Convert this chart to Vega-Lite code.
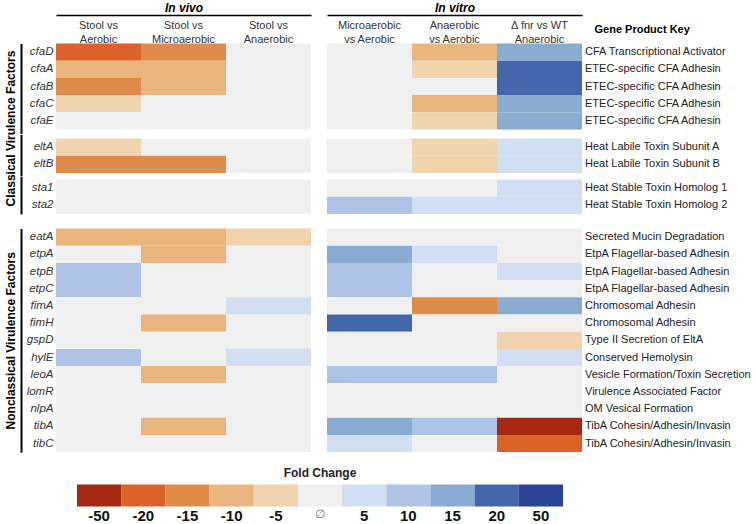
{
  "$schema": "https://vega.github.io/schema/vega-lite/v6.json",
  "padding": {"left": 3, "top": 0.5, "right": 0, "bottom": 0},
  "config": {"view": {"stroke": null}, "font": "Liberation Sans"},
  "datasets": {
    "cells": [
      {"g":"cfaD","grp":1,"s":"vivo","c":"Stool vs\nAerobic","v":-20},
      {"g":"cfaD","grp":1,"s":"vivo","c":"Stool vs\nMicroaerobic","v":-15},
      {"g":"cfaD","grp":1,"s":"vivo","c":"Stool vs\nAnaerobic","v":0},
      {"g":"cfaD","grp":1,"s":"vitro","c":"Microaerobic\nvs Aerobic","v":0},
      {"g":"cfaD","grp":1,"s":"vitro","c":"Anaerobic\nvs Aerobic","v":-10},
      {"g":"cfaD","grp":1,"s":"vitro","c":"Δ fnr vs WT\nAnaerobic","v":15},
      {"g":"cfaA","grp":1,"s":"vivo","c":"Stool vs\nAerobic","v":-10},
      {"g":"cfaA","grp":1,"s":"vivo","c":"Stool vs\nMicroaerobic","v":-10},
      {"g":"cfaA","grp":1,"s":"vivo","c":"Stool vs\nAnaerobic","v":0},
      {"g":"cfaA","grp":1,"s":"vitro","c":"Microaerobic\nvs Aerobic","v":0},
      {"g":"cfaA","grp":1,"s":"vitro","c":"Anaerobic\nvs Aerobic","v":-5},
      {"g":"cfaA","grp":1,"s":"vitro","c":"Δ fnr vs WT\nAnaerobic","v":20},
      {"g":"cfaB","grp":1,"s":"vivo","c":"Stool vs\nAerobic","v":-15},
      {"g":"cfaB","grp":1,"s":"vivo","c":"Stool vs\nMicroaerobic","v":-10},
      {"g":"cfaB","grp":1,"s":"vivo","c":"Stool vs\nAnaerobic","v":0},
      {"g":"cfaB","grp":1,"s":"vitro","c":"Microaerobic\nvs Aerobic","v":0},
      {"g":"cfaB","grp":1,"s":"vitro","c":"Anaerobic\nvs Aerobic","v":0},
      {"g":"cfaB","grp":1,"s":"vitro","c":"Δ fnr vs WT\nAnaerobic","v":20},
      {"g":"cfaC","grp":1,"s":"vivo","c":"Stool vs\nAerobic","v":-5},
      {"g":"cfaC","grp":1,"s":"vivo","c":"Stool vs\nMicroaerobic","v":0},
      {"g":"cfaC","grp":1,"s":"vivo","c":"Stool vs\nAnaerobic","v":0},
      {"g":"cfaC","grp":1,"s":"vitro","c":"Microaerobic\nvs Aerobic","v":0},
      {"g":"cfaC","grp":1,"s":"vitro","c":"Anaerobic\nvs Aerobic","v":-10},
      {"g":"cfaC","grp":1,"s":"vitro","c":"Δ fnr vs WT\nAnaerobic","v":15},
      {"g":"cfaE","grp":1,"s":"vivo","c":"Stool vs\nAerobic","v":0},
      {"g":"cfaE","grp":1,"s":"vivo","c":"Stool vs\nMicroaerobic","v":0},
      {"g":"cfaE","grp":1,"s":"vivo","c":"Stool vs\nAnaerobic","v":0},
      {"g":"cfaE","grp":1,"s":"vitro","c":"Microaerobic\nvs Aerobic","v":0},
      {"g":"cfaE","grp":1,"s":"vitro","c":"Anaerobic\nvs Aerobic","v":-5},
      {"g":"cfaE","grp":1,"s":"vitro","c":"Δ fnr vs WT\nAnaerobic","v":15},
      {"g":"eltA","grp":2,"s":"vivo","c":"Stool vs\nAerobic","v":-5},
      {"g":"eltA","grp":2,"s":"vivo","c":"Stool vs\nMicroaerobic","v":0},
      {"g":"eltA","grp":2,"s":"vivo","c":"Stool vs\nAnaerobic","v":0},
      {"g":"eltA","grp":2,"s":"vitro","c":"Microaerobic\nvs Aerobic","v":0},
      {"g":"eltA","grp":2,"s":"vitro","c":"Anaerobic\nvs Aerobic","v":-5},
      {"g":"eltA","grp":2,"s":"vitro","c":"Δ fnr vs WT\nAnaerobic","v":5},
      {"g":"eltB","grp":2,"s":"vivo","c":"Stool vs\nAerobic","v":-15},
      {"g":"eltB","grp":2,"s":"vivo","c":"Stool vs\nMicroaerobic","v":-15},
      {"g":"eltB","grp":2,"s":"vivo","c":"Stool vs\nAnaerobic","v":0},
      {"g":"eltB","grp":2,"s":"vitro","c":"Microaerobic\nvs Aerobic","v":0},
      {"g":"eltB","grp":2,"s":"vitro","c":"Anaerobic\nvs Aerobic","v":-5},
      {"g":"eltB","grp":2,"s":"vitro","c":"Δ fnr vs WT\nAnaerobic","v":5},
      {"g":"sta1","grp":3,"s":"vivo","c":"Stool vs\nAerobic","v":0},
      {"g":"sta1","grp":3,"s":"vivo","c":"Stool vs\nMicroaerobic","v":0},
      {"g":"sta1","grp":3,"s":"vivo","c":"Stool vs\nAnaerobic","v":0},
      {"g":"sta1","grp":3,"s":"vitro","c":"Microaerobic\nvs Aerobic","v":0},
      {"g":"sta1","grp":3,"s":"vitro","c":"Anaerobic\nvs Aerobic","v":0},
      {"g":"sta1","grp":3,"s":"vitro","c":"Δ fnr vs WT\nAnaerobic","v":5},
      {"g":"sta2","grp":3,"s":"vivo","c":"Stool vs\nAerobic","v":0},
      {"g":"sta2","grp":3,"s":"vivo","c":"Stool vs\nMicroaerobic","v":0},
      {"g":"sta2","grp":3,"s":"vivo","c":"Stool vs\nAnaerobic","v":0},
      {"g":"sta2","grp":3,"s":"vitro","c":"Microaerobic\nvs Aerobic","v":10},
      {"g":"sta2","grp":3,"s":"vitro","c":"Anaerobic\nvs Aerobic","v":5},
      {"g":"sta2","grp":3,"s":"vitro","c":"Δ fnr vs WT\nAnaerobic","v":5},
      {"g":"eatA","grp":4,"s":"vivo","c":"Stool vs\nAerobic","v":-10},
      {"g":"eatA","grp":4,"s":"vivo","c":"Stool vs\nMicroaerobic","v":-10},
      {"g":"eatA","grp":4,"s":"vivo","c":"Stool vs\nAnaerobic","v":-5},
      {"g":"eatA","grp":4,"s":"vitro","c":"Microaerobic\nvs Aerobic","v":0},
      {"g":"eatA","grp":4,"s":"vitro","c":"Anaerobic\nvs Aerobic","v":0},
      {"g":"eatA","grp":4,"s":"vitro","c":"Δ fnr vs WT\nAnaerobic","v":0},
      {"g":"etpA","grp":4,"s":"vivo","c":"Stool vs\nAerobic","v":0},
      {"g":"etpA","grp":4,"s":"vivo","c":"Stool vs\nMicroaerobic","v":-10},
      {"g":"etpA","grp":4,"s":"vivo","c":"Stool vs\nAnaerobic","v":0},
      {"g":"etpA","grp":4,"s":"vitro","c":"Microaerobic\nvs Aerobic","v":15},
      {"g":"etpA","grp":4,"s":"vitro","c":"Anaerobic\nvs Aerobic","v":5},
      {"g":"etpA","grp":4,"s":"vitro","c":"Δ fnr vs WT\nAnaerobic","v":0},
      {"g":"etpB","grp":4,"s":"vivo","c":"Stool vs\nAerobic","v":10},
      {"g":"etpB","grp":4,"s":"vivo","c":"Stool vs\nMicroaerobic","v":0},
      {"g":"etpB","grp":4,"s":"vivo","c":"Stool vs\nAnaerobic","v":0},
      {"g":"etpB","grp":4,"s":"vitro","c":"Microaerobic\nvs Aerobic","v":10},
      {"g":"etpB","grp":4,"s":"vitro","c":"Anaerobic\nvs Aerobic","v":0},
      {"g":"etpB","grp":4,"s":"vitro","c":"Δ fnr vs WT\nAnaerobic","v":5},
      {"g":"etpC","grp":4,"s":"vivo","c":"Stool vs\nAerobic","v":10},
      {"g":"etpC","grp":4,"s":"vivo","c":"Stool vs\nMicroaerobic","v":0},
      {"g":"etpC","grp":4,"s":"vivo","c":"Stool vs\nAnaerobic","v":0},
      {"g":"etpC","grp":4,"s":"vitro","c":"Microaerobic\nvs Aerobic","v":10},
      {"g":"etpC","grp":4,"s":"vitro","c":"Anaerobic\nvs Aerobic","v":0},
      {"g":"etpC","grp":4,"s":"vitro","c":"Δ fnr vs WT\nAnaerobic","v":0},
      {"g":"fimA","grp":4,"s":"vivo","c":"Stool vs\nAerobic","v":0},
      {"g":"fimA","grp":4,"s":"vivo","c":"Stool vs\nMicroaerobic","v":0},
      {"g":"fimA","grp":4,"s":"vivo","c":"Stool vs\nAnaerobic","v":5},
      {"g":"fimA","grp":4,"s":"vitro","c":"Microaerobic\nvs Aerobic","v":0},
      {"g":"fimA","grp":4,"s":"vitro","c":"Anaerobic\nvs Aerobic","v":-15},
      {"g":"fimA","grp":4,"s":"vitro","c":"Δ fnr vs WT\nAnaerobic","v":15},
      {"g":"fimH","grp":4,"s":"vivo","c":"Stool vs\nAerobic","v":0},
      {"g":"fimH","grp":4,"s":"vivo","c":"Stool vs\nMicroaerobic","v":-10},
      {"g":"fimH","grp":4,"s":"vivo","c":"Stool vs\nAnaerobic","v":0},
      {"g":"fimH","grp":4,"s":"vitro","c":"Microaerobic\nvs Aerobic","v":20},
      {"g":"fimH","grp":4,"s":"vitro","c":"Anaerobic\nvs Aerobic","v":0},
      {"g":"fimH","grp":4,"s":"vitro","c":"Δ fnr vs WT\nAnaerobic","v":0},
      {"g":"gspD","grp":4,"s":"vivo","c":"Stool vs\nAerobic","v":0},
      {"g":"gspD","grp":4,"s":"vivo","c":"Stool vs\nMicroaerobic","v":0},
      {"g":"gspD","grp":4,"s":"vivo","c":"Stool vs\nAnaerobic","v":0},
      {"g":"gspD","grp":4,"s":"vitro","c":"Microaerobic\nvs Aerobic","v":0},
      {"g":"gspD","grp":4,"s":"vitro","c":"Anaerobic\nvs Aerobic","v":0},
      {"g":"gspD","grp":4,"s":"vitro","c":"Δ fnr vs WT\nAnaerobic","v":-5},
      {"g":"hylE","grp":4,"s":"vivo","c":"Stool vs\nAerobic","v":10},
      {"g":"hylE","grp":4,"s":"vivo","c":"Stool vs\nMicroaerobic","v":0},
      {"g":"hylE","grp":4,"s":"vivo","c":"Stool vs\nAnaerobic","v":5},
      {"g":"hylE","grp":4,"s":"vitro","c":"Microaerobic\nvs Aerobic","v":0},
      {"g":"hylE","grp":4,"s":"vitro","c":"Anaerobic\nvs Aerobic","v":0},
      {"g":"hylE","grp":4,"s":"vitro","c":"Δ fnr vs WT\nAnaerobic","v":5},
      {"g":"leoA","grp":4,"s":"vivo","c":"Stool vs\nAerobic","v":0},
      {"g":"leoA","grp":4,"s":"vivo","c":"Stool vs\nMicroaerobic","v":-10},
      {"g":"leoA","grp":4,"s":"vivo","c":"Stool vs\nAnaerobic","v":0},
      {"g":"leoA","grp":4,"s":"vitro","c":"Microaerobic\nvs Aerobic","v":10},
      {"g":"leoA","grp":4,"s":"vitro","c":"Anaerobic\nvs Aerobic","v":10},
      {"g":"leoA","grp":4,"s":"vitro","c":"Δ fnr vs WT\nAnaerobic","v":0},
      {"g":"lomR","grp":4,"s":"vivo","c":"Stool vs\nAerobic","v":0},
      {"g":"lomR","grp":4,"s":"vivo","c":"Stool vs\nMicroaerobic","v":0},
      {"g":"lomR","grp":4,"s":"vivo","c":"Stool vs\nAnaerobic","v":0},
      {"g":"lomR","grp":4,"s":"vitro","c":"Microaerobic\nvs Aerobic","v":0},
      {"g":"lomR","grp":4,"s":"vitro","c":"Anaerobic\nvs Aerobic","v":0},
      {"g":"lomR","grp":4,"s":"vitro","c":"Δ fnr vs WT\nAnaerobic","v":0},
      {"g":"nlpA","grp":4,"s":"vivo","c":"Stool vs\nAerobic","v":0},
      {"g":"nlpA","grp":4,"s":"vivo","c":"Stool vs\nMicroaerobic","v":0},
      {"g":"nlpA","grp":4,"s":"vivo","c":"Stool vs\nAnaerobic","v":0},
      {"g":"nlpA","grp":4,"s":"vitro","c":"Microaerobic\nvs Aerobic","v":0},
      {"g":"nlpA","grp":4,"s":"vitro","c":"Anaerobic\nvs Aerobic","v":0},
      {"g":"nlpA","grp":4,"s":"vitro","c":"Δ fnr vs WT\nAnaerobic","v":0},
      {"g":"tibA","grp":4,"s":"vivo","c":"Stool vs\nAerobic","v":0},
      {"g":"tibA","grp":4,"s":"vivo","c":"Stool vs\nMicroaerobic","v":-10},
      {"g":"tibA","grp":4,"s":"vivo","c":"Stool vs\nAnaerobic","v":0},
      {"g":"tibA","grp":4,"s":"vitro","c":"Microaerobic\nvs Aerobic","v":15},
      {"g":"tibA","grp":4,"s":"vitro","c":"Anaerobic\nvs Aerobic","v":10},
      {"g":"tibA","grp":4,"s":"vitro","c":"Δ fnr vs WT\nAnaerobic","v":-50},
      {"g":"tibC","grp":4,"s":"vivo","c":"Stool vs\nAerobic","v":0},
      {"g":"tibC","grp":4,"s":"vivo","c":"Stool vs\nMicroaerobic","v":0},
      {"g":"tibC","grp":4,"s":"vivo","c":"Stool vs\nAnaerobic","v":0},
      {"g":"tibC","grp":4,"s":"vitro","c":"Microaerobic\nvs Aerobic","v":5},
      {"g":"tibC","grp":4,"s":"vitro","c":"Anaerobic\nvs Aerobic","v":0},
      {"g":"tibC","grp":4,"s":"vitro","c":"Δ fnr vs WT\nAnaerobic","v":-20}
    ],
    "genes": [
      {"g":"cfaD","grp":1,"p":"CFA Transcriptional Activator"},
      {"g":"cfaA","grp":1,"p":"ETEC-specific CFA Adhesin"},
      {"g":"cfaB","grp":1,"p":"ETEC-specific CFA Adhesin"},
      {"g":"cfaC","grp":1,"p":"ETEC-specific CFA Adhesin"},
      {"g":"cfaE","grp":1,"p":"ETEC-specific CFA Adhesin"},
      {"g":"eltA","grp":2,"p":"Heat Labile Toxin Subunit A"},
      {"g":"eltB","grp":2,"p":"Heat Labile Toxin Subunit B"},
      {"g":"sta1","grp":3,"p":"Heat Stable Toxin Homolog 1"},
      {"g":"sta2","grp":3,"p":"Heat Stable Toxin Homolog 2"},
      {"g":"eatA","grp":4,"p":"Secreted Mucin Degradation"},
      {"g":"etpA","grp":4,"p":"EtpA Flagellar-based Adhesin"},
      {"g":"etpB","grp":4,"p":"EtpA Flagellar-based Adhesin"},
      {"g":"etpC","grp":4,"p":"EtpA Flagellar-based Adhesin"},
      {"g":"fimA","grp":4,"p":"Chromosomal Adhesin"},
      {"g":"fimH","grp":4,"p":"Chromosomal Adhesin"},
      {"g":"gspD","grp":4,"p":"Type II Secretion of EltA"},
      {"g":"hylE","grp":4,"p":"Conserved Hemolysin"},
      {"g":"leoA","grp":4,"p":"Vesicle Formation/Toxin Secretion"},
      {"g":"lomR","grp":4,"p":"Virulence Associated Factor"},
      {"g":"nlpA","grp":4,"p":"OM Vesical Formation"},
      {"g":"tibA","grp":4,"p":"TibA Cohesin/Adhesin/Invasin"},
      {"g":"tibC","grp":4,"p":"TibA Cohesin/Adhesin/Invasin"}
    ],
    "legend": [
      {"v":-50},{"v":-20},{"v":-15},{"v":-10},{"v":-5},{"v":0},{"v":5},{"v":10},{"v":15},{"v":20},{"v":50}
    ]
  },
  "spacing": 14,
  "vconcat": [
    {
      "columns": 3,
      "align": "each",
      "bounds": "flush",
      "spacing": {"row": 0, "column": 16},
      "concat": [
        {
          "data": {"name": "cells"},
          "transform": [{"filter": "datum.grp == 1 && datum.s == 'vivo'"}],
          "width": 255, "height": {"step": 17.2},
          "mark": "rect",
          "encoding": {
            "x": {"field": "c", "type": "nominal", "scale": {"domain": ["Stool vs\nAerobic", "Stool vs\nMicroaerobic", "Stool vs\nAnaerobic"], "paddingInner": 0, "paddingOuter": 0},
              "axis": {"orient": "top", "title": "In vivo", "offset": 28.5, "domain": true, "domainColor": "#000", "domainWidth": 1.5, "ticks": false, "tickSize": 0, "labelPadding": -15, "labelAngle": 0, "labelBaseline": "bottom", "labelExpr": "split(datum.label, '\\n')", "labelLineHeight": 14, "labelFontSize": 11, "labelColor": "#333", "labelOverlap": false, "labelLimit": 0, "titleFontSize": 12, "titleFontWeight": "bold", "titleFontStyle": "italic", "titleColor": "#000", "titleY": -1, "titleBaseline": "bottom"}},
            "y": {"field": "g", "type": "nominal", "scale": {"domain": ["cfaD", "cfaA", "cfaB", "cfaC", "cfaE"], "paddingInner": 0, "paddingOuter": 0.1163, "align": 0},
              "axis": {"orient": "left", "offset": 35, "domain": true, "domainColor": "#000", "domainWidth": 2, "ticks": false, "tickSize": 0, "labelPadding": -32, "labelFontSize": 11.5, "labelFontStyle": "italic", "labelColor": "#333", "labelOverlap": false, "title": "Classical Virulence Factors", "titleFontSize": 12, "titleFontWeight": "bold", "titleColor": "#000", "titleX": -11, "titleY": 84.5, "titleAngle": 270, "titleAlign": "center", "titleBaseline": "middle"}},
            "color": {"field": "v", "type": "ordinal", "scale": {"domain": [-50, -20, -15, -10, -5, 0, 5, 10, 15, 20, 50], "range": ["#a52811", "#dc6229", "#df8b4a", "#ebb57e", "#f0d4ae", "#f0f0f0", "#d2dff2", "#afc3e6", "#8aacd2", "#4466aa", "#2d4494"]}, "legend": null}
          }
        },
        {
          "data": {"name": "cells"},
          "transform": [{"filter": "datum.grp == 1 && datum.s == 'vitro'"}],
          "width": 255, "height": {"step": 17.2},
          "mark": "rect",
          "encoding": {
            "x": {"field": "c", "type": "nominal", "scale": {"domain": ["Microaerobic\nvs Aerobic", "Anaerobic\nvs Aerobic", "Δ fnr vs WT\nAnaerobic"], "paddingInner": 0, "paddingOuter": 0},
              "axis": {"orient": "top", "title": "In vitro", "offset": 28.5, "domain": true, "domainColor": "#000", "domainWidth": 1.5, "ticks": false, "tickSize": 0, "labelPadding": -15, "labelAngle": 0, "labelBaseline": "bottom", "labelExpr": "split(datum.label, '\\n')", "labelLineHeight": 14, "labelFontSize": 11, "labelColor": "#333", "labelOverlap": false, "labelLimit": 0, "titleFontSize": 12, "titleFontWeight": "bold", "titleFontStyle": "italic", "titleColor": "#000", "titleY": -1, "titleBaseline": "bottom"}},
            "y": {"field": "g", "type": "nominal", "scale": {"domain": ["cfaD", "cfaA", "cfaB", "cfaC", "cfaE"], "paddingInner": 0, "paddingOuter": 0.1163, "align": 0}, "axis": null},
            "color": {"field": "v", "type": "ordinal", "legend": null}
          }
        },
        {
          "data": {"name": "genes"},
          "transform": [{"filter": "datum.grp == 1"}],
          "width": 155, "height": {"step": 17.2},
          "mark": {"type": "text", "align": "left", "baseline": "middle", "dx": -13, "fontSize": 11, "color": "#222"},
          "encoding": {
            "y": {"field": "g", "type": "nominal", "scale": {"type": "band", "domain": ["cfaD", "cfaA", "cfaB", "cfaC", "cfaE"], "paddingInner": 0, "paddingOuter": 0.1163, "align": 0}, "axis": null},
            "x": {"datum": "Gene Product Key", "type": "nominal", "scale": {"type": "point", "padding": 0, "align": 0},
              "axis": {"orient": "top", "title": null, "domain": false, "ticks": false, "tickSize": 0, "labelPadding": 14, "labelAlign": "left", "labelBaseline": "middle", "labelAngle": 0, "labelFontSize": 11, "labelFontWeight": "bold", "labelColor": "#000", "labelOffset": -4}},
            "text": {"field": "p", "type": "nominal"}
          }
        },
        {
          "data": {"name": "cells"},
          "transform": [{"filter": "datum.grp == 2 && datum.s == 'vivo'"}],
          "width": 255, "height": {"step": 17.2},
          "mark": "rect",
          "encoding": {
            "x": {"field": "c", "type": "nominal", "scale": {"domain": ["Stool vs\nAerobic", "Stool vs\nMicroaerobic", "Stool vs\nAnaerobic"], "paddingInner": 0, "paddingOuter": 0}, "axis": null},
            "y": {"field": "g", "type": "nominal", "scale": {"domain": ["eltA", "eltB"], "paddingInner": 0, "paddingOuter": 0.2035, "align": 0.571},
              "axis": {"orient": "left", "offset": 35, "domain": true, "domainColor": "#000", "domainWidth": 2, "ticks": false, "tickSize": 0, "labelPadding": -32, "labelFontSize": 11.5, "labelFontStyle": "italic", "labelColor": "#333", "labelOverlap": false, "title": null}},
            "color": {"field": "v", "type": "ordinal", "legend": null}
          }
        },
        {
          "data": {"name": "cells"},
          "transform": [{"filter": "datum.grp == 2 && datum.s == 'vitro'"}],
          "width": 255, "height": {"step": 17.2},
          "mark": "rect",
          "encoding": {
            "x": {"field": "c", "type": "nominal", "scale": {"domain": ["Microaerobic\nvs Aerobic", "Anaerobic\nvs Aerobic", "Δ fnr vs WT\nAnaerobic"], "paddingInner": 0, "paddingOuter": 0}, "axis": null},
            "y": {"field": "g", "type": "nominal", "scale": {"domain": ["eltA", "eltB"], "paddingInner": 0, "paddingOuter": 0.2035, "align": 0.571}, "axis": null},
            "color": {"field": "v", "type": "ordinal", "legend": null}
          }
        },
        {
          "data": {"name": "genes"},
          "transform": [{"filter": "datum.grp == 2"}],
          "width": 155, "height": {"step": 17.2},
          "mark": {"type": "text", "align": "left", "baseline": "middle", "dx": -13, "fontSize": 11, "color": "#222"},
          "encoding": {
            "y": {"field": "g", "type": "nominal", "scale": {"type": "band", "domain": ["eltA", "eltB"], "paddingInner": 0, "paddingOuter": 0.2035, "align": 0.571}, "axis": null},
            "x": {"datum": "Gene Product Key", "type": "nominal", "scale": {"type": "point", "padding": 0, "align": 0}, "axis": null},
            "text": {"field": "p", "type": "nominal"}
          }
        },
        {
          "data": {"name": "cells"},
          "transform": [{"filter": "datum.grp == 3 && datum.s == 'vivo'"}],
          "width": 255, "height": {"step": 17.2},
          "mark": "rect",
          "encoding": {
            "x": {"field": "c", "type": "nominal", "scale": {"domain": ["Stool vs\nAerobic", "Stool vs\nMicroaerobic", "Stool vs\nAnaerobic"], "paddingInner": 0, "paddingOuter": 0}, "axis": null},
            "y": {"field": "g", "type": "nominal", "scale": {"domain": ["sta1", "sta2"], "paddingInner": 0, "paddingOuter": 0.0872, "align": 1},
              "axis": {"orient": "left", "offset": 35, "domain": true, "domainColor": "#000", "domainWidth": 2, "ticks": false, "tickSize": 0, "labelPadding": -32, "labelFontSize": 11.5, "labelFontStyle": "italic", "labelColor": "#333", "labelOverlap": false, "title": null}},
            "color": {"field": "v", "type": "ordinal", "legend": null}
          }
        },
        {
          "data": {"name": "cells"},
          "transform": [{"filter": "datum.grp == 3 && datum.s == 'vitro'"}],
          "width": 255, "height": {"step": 17.2},
          "mark": "rect",
          "encoding": {
            "x": {"field": "c", "type": "nominal", "scale": {"domain": ["Microaerobic\nvs Aerobic", "Anaerobic\nvs Aerobic", "Δ fnr vs WT\nAnaerobic"], "paddingInner": 0, "paddingOuter": 0}, "axis": null},
            "y": {"field": "g", "type": "nominal", "scale": {"domain": ["sta1", "sta2"], "paddingInner": 0, "paddingOuter": 0.0872, "align": 1}, "axis": null},
            "color": {"field": "v", "type": "ordinal", "legend": null}
          }
        },
        {
          "data": {"name": "genes"},
          "transform": [{"filter": "datum.grp == 3"}],
          "width": 155, "height": {"step": 17.2},
          "mark": {"type": "text", "align": "left", "baseline": "middle", "dx": -13, "fontSize": 11, "color": "#222"},
          "encoding": {
            "y": {"field": "g", "type": "nominal", "scale": {"type": "band", "domain": ["sta1", "sta2"], "paddingInner": 0, "paddingOuter": 0.0872, "align": 1}, "axis": null},
            "x": {"datum": "Gene Product Key", "type": "nominal", "scale": {"type": "point", "padding": 0, "align": 0}, "axis": null},
            "text": {"field": "p", "type": "nominal"}
          }
        }
      ]
    },
    {
      "bounds": "flush",
      "spacing": 16,
      "hconcat": [
        {
          "data": {"name": "cells"},
          "transform": [{"filter": "datum.grp == 4 && datum.s == 'vivo'"}],
          "width": 255, "height": {"step": 17.2},
          "mark": "rect",
          "encoding": {
            "x": {"field": "c", "type": "nominal", "scale": {"domain": ["Stool vs\nAerobic", "Stool vs\nMicroaerobic", "Stool vs\nAnaerobic"], "paddingInner": 0, "paddingOuter": 0}, "axis": null},
            "y": {"field": "g", "type": "nominal", "scale": {"domain": ["eatA", "etpA", "etpB", "etpC", "fimA", "fimH", "gspD", "hylE", "leoA", "lomR", "nlpA", "tibA", "tibC"], "paddingInner": 0, "paddingOuter": 0},
              "axis": {"orient": "left", "offset": 35, "domain": true, "domainColor": "#000", "domainWidth": 2, "ticks": false, "tickSize": 0, "labelPadding": -32, "labelFontSize": 11.5, "labelFontStyle": "italic", "labelColor": "#333", "labelOverlap": false, "title": "Nonclassical Virulence Factors", "titleFontSize": 12, "titleFontWeight": "bold", "titleColor": "#000", "titleX": -11, "titleY": 111.8, "titleAngle": 270, "titleAlign": "center", "titleBaseline": "middle"}},
            "color": {"field": "v", "type": "ordinal", "legend": null}
          }
        },
        {
          "data": {"name": "cells"},
          "transform": [{"filter": "datum.grp == 4 && datum.s == 'vitro'"}],
          "width": 255, "height": {"step": 17.2},
          "mark": "rect",
          "encoding": {
            "x": {"field": "c", "type": "nominal", "scale": {"domain": ["Microaerobic\nvs Aerobic", "Anaerobic\nvs Aerobic", "Δ fnr vs WT\nAnaerobic"], "paddingInner": 0, "paddingOuter": 0}, "axis": null},
            "y": {"field": "g", "type": "nominal", "scale": {"domain": ["eatA", "etpA", "etpB", "etpC", "fimA", "fimH", "gspD", "hylE", "leoA", "lomR", "nlpA", "tibA", "tibC"], "paddingInner": 0, "paddingOuter": 0}, "axis": null},
            "color": {"field": "v", "type": "ordinal", "legend": null}
          }
        },
        {
          "data": {"name": "genes"},
          "transform": [{"filter": "datum.grp == 4"}],
          "width": 155, "height": {"step": 17.2},
          "mark": {"type": "text", "align": "left", "baseline": "middle", "dx": -13, "fontSize": 11, "color": "#222"},
          "encoding": {
            "y": {"field": "g", "type": "nominal", "scale": {"type": "band", "domain": ["eatA", "etpA", "etpB", "etpC", "fimA", "fimH", "gspD", "hylE", "leoA", "lomR", "nlpA", "tibA", "tibC"], "paddingInner": 0, "paddingOuter": 0}, "axis": null},
            "x": {"datum": "Gene Product Key", "type": "nominal", "scale": {"type": "point", "padding": 0, "align": 0}, "axis": null},
            "text": {"field": "p", "type": "nominal"}
          }
        }
      ]
    },
    {
      "data": {"name": "legend"},
      "width": 528, "height": 22,
      "title": {"text": "Fold Change", "fontSize": 12, "fontWeight": "bold", "color": "#222", "offset": -7, "baseline": "bottom", "anchor": "middle", "frame": "group"},
      "mark": "rect",
      "encoding": {
        "x": {"field": "v", "type": "ordinal", "scale": {"domain": [-50, -20, -15, -10, -5, 0, 5, 10, 15, 20, 50], "paddingInner": 0, "paddingOuter": 0.475},
          "axis": {"orient": "bottom", "title": null, "domain": false, "ticks": false, "tickSize": 0, "labelAngle": 0, "labelPadding": 2, "labelExpr": "datum.value == 0 ? '∅' : datum.label", "labelFontSize": {"condition": {"test": "datum.value == 0", "value": 12}, "value": 15}, "labelFontWeight": {"condition": {"test": "datum.value == 0", "value": "normal"}, "value": "bold"}, "labelColor": {"condition": {"test": "datum.value == 0", "value": "#777"}, "value": "#111"}}},
        "color": {"field": "v", "type": "ordinal", "legend": null}
      }
    }
  ]
}
